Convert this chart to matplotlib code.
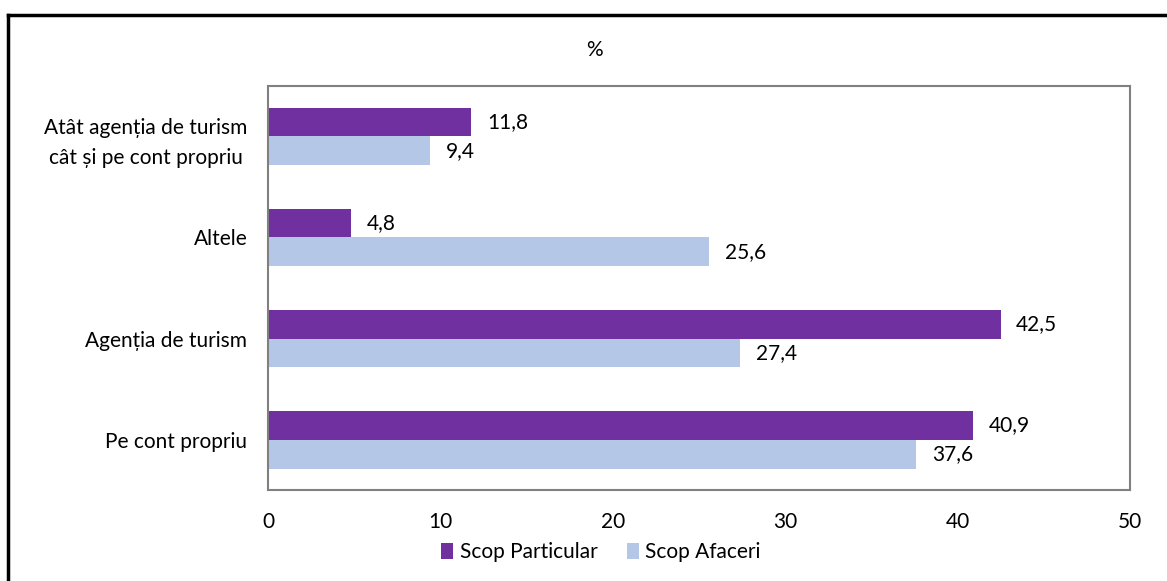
import matplotlib
matplotlib.use('Agg')
import matplotlib.pyplot as plt
from matplotlib.lines import Line2D

plt.rcParams['font.family'] = ['Lato', 'DejaVu Sans']

# data
categories = ['Pe cont propriu', 'Agenția de turism', 'Altele',
              'Atât agenția de turism\ncât și pe cont propriu']
particular = [40.9, 42.5, 4.8, 11.8]
afaceri = [37.6, 27.4, 25.6, 9.4]
series_names = ['Scop Particular', 'Scop Afaceri']
xticks = [0, 10, 20, 30, 40, 50]

c_part = '#7030A0'
c_af = '#B4C7E7'
fs = 15

fig = plt.figure(figsize=(11.67, 5.81), dpi=100)
ax = fig.add_axes([0.2297, 0.1566, 0.7386, 0.6954])

h = 0.287
ys = range(len(categories))
b1 = ax.barh([y + h / 2 for y in ys], particular, height=h, color=c_part, label=series_names[0])
b2 = ax.barh([y - h / 2 for y in ys], afaceri, height=h, color=c_af, label=series_names[1])

for bars, vals in ((b1, particular), (b2, afaceri)):
    for r, v in zip(bars, vals):
        ax.text(r.get_width() + 0.9, r.get_y() + r.get_height() / 2,
                ('%.1f' % v).replace('.', ','), va='center', ha='left',
                fontsize=fs, color='black')

ax.set_xlim(0, 50)
ax.set_ylim(-0.5, 3.5)
ax.set_xticks(xticks)
ax.set_xticklabels([str(t) for t in xticks], fontsize=fs)
ax.set_yticks(list(ys))
ax.set_yticklabels(categories, fontsize=fs, multialignment='center', linespacing=1.6)
ax.tick_params(length=0)
ax.tick_params(axis='x', pad=16)
ax.tick_params(axis='y', pad=15)

for s in ax.spines.values():
    s.set_color('#808080')
    s.set_linewidth(1.5)

fig.text(0.5098, 0.914, '%', ha='center', va='center', fontsize=fs)

ax.legend(loc='center', bbox_to_anchor=(0.386, -0.153), ncol=2, frameon=False,
          fontsize=fs, handlelength=0.6, handleheight=0.8, handletextpad=0.3,
          columnspacing=1.4)

# outer frame
fig.add_artist(Line2D([8 / 1167, 8 / 1167], [0, 1 - 15 / 581], color='black', lw=2.5))
fig.add_artist(Line2D([8 / 1167, 1], [1 - 15 / 581, 1 - 15 / 581], color='black', lw=2.5))

fig.savefig('out.png', dpi=100)
